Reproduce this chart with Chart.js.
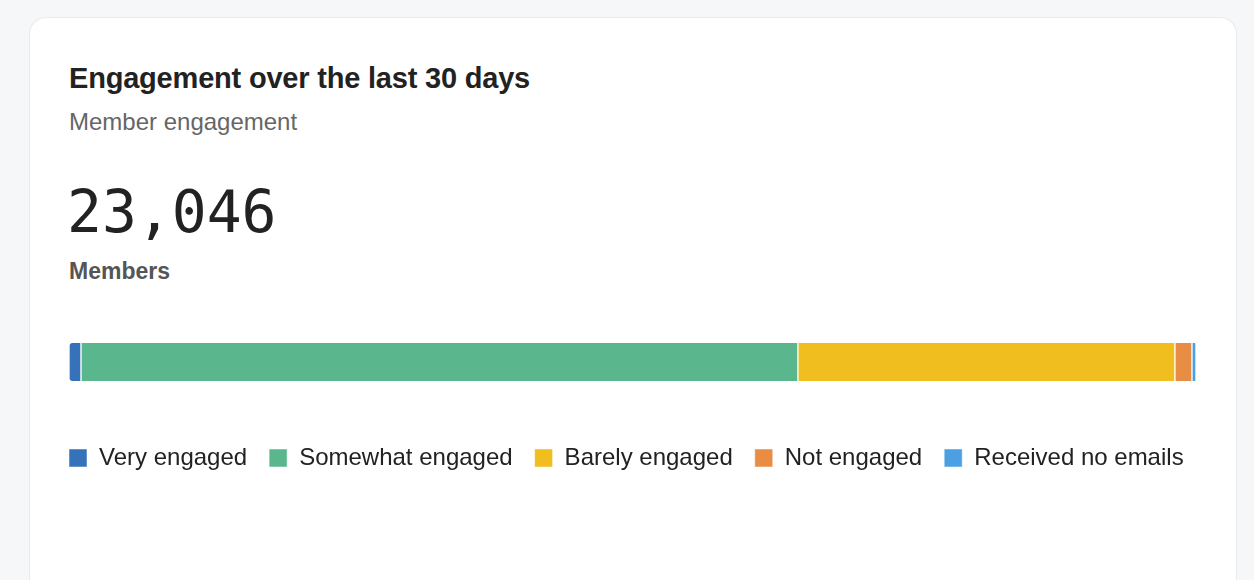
<!DOCTYPE html>
<html><head><meta charset="utf-8">
<script src="https://cdn.jsdelivr.net/npm/chart.js@4"></script>
<style>
html,body{margin:0;background:#f6f7f8;font-family:"Liberation Sans",Arial,sans-serif;}
.card{position:absolute;left:30px;top:18px;width:1206px;height:600px;background:#fff;border-radius:16px;box-shadow:0 0 0 1px #e8eaed;}
.t{position:absolute;left:69px;top:62px;font-size:29px;font-weight:bold;color:#222;letter-spacing:-0.2px;}
.s{position:absolute;left:69px;top:108px;font-size:24px;color:#666;}
.n{position:absolute;left:67px;top:178px;font-size:58px;font-family:"DejaVu Sans Mono",monospace;color:#222;}
.m{position:absolute;left:69px;top:258px;font-size:23px;font-weight:bold;color:#555;}
#wrap{position:absolute;left:47px;top:300px;width:1171px;height:180px;}
</style></head><body>
<div class="card"></div>
<div class="t">Engagement over the last 30 days</div>
<div class="s">Member engagement</div>
<div class="n">23,046</div>
<div class="m">Members</div>
<div id="wrap"><canvas id="c"></canvas></div>
<script>
const categories = ["Members"];
const seriesNames = ["Very engaged","Somewhat engaged","Barely engaged","Not engaged","Received no emails"];
const seriesValues = [245, 14660, 7710, 348, 83];
const colors = ["#3572b9","#59b68d","#f0be1f","#e98c44","#4aa0e2"];
const total = seriesValues.reduce((a,b)=>a+b,0);
const pad = total*22/1127;
new Chart(document.getElementById('c'), {
  type:'bar',
  data:{labels:categories, datasets:seriesNames.map((n,i)=>({
    label:n, data:[seriesValues[i]], backgroundColor:colors[i],
    borderColor:'#fff', borderWidth:{left:1,right:1,top:0,bottom:0}, borderSkipped:false,
    borderRadius: i===0?{topLeft:4,bottomLeft:4}:(i===seriesNames.length-1?{topRight:4,bottomRight:4}:0),
    barThickness:38
  }))},
  options:{indexAxis:'y',responsive:true,maintainAspectRatio:false,animation:false,
    layout:{padding:0},
    scales:{x:{stacked:true,display:false,min:-pad,max:total+pad},y:{stacked:true,display:false}},
    plugins:{tooltip:{enabled:false},legend:{position:'bottom',align:'start',
      labels:{boxWidth:18,boxHeight:18,padding:22,color:'#222',font:{size:24,family:'"Liberation Sans",Arial,sans-serif'}}}}
  }
});
</script></body></html>
